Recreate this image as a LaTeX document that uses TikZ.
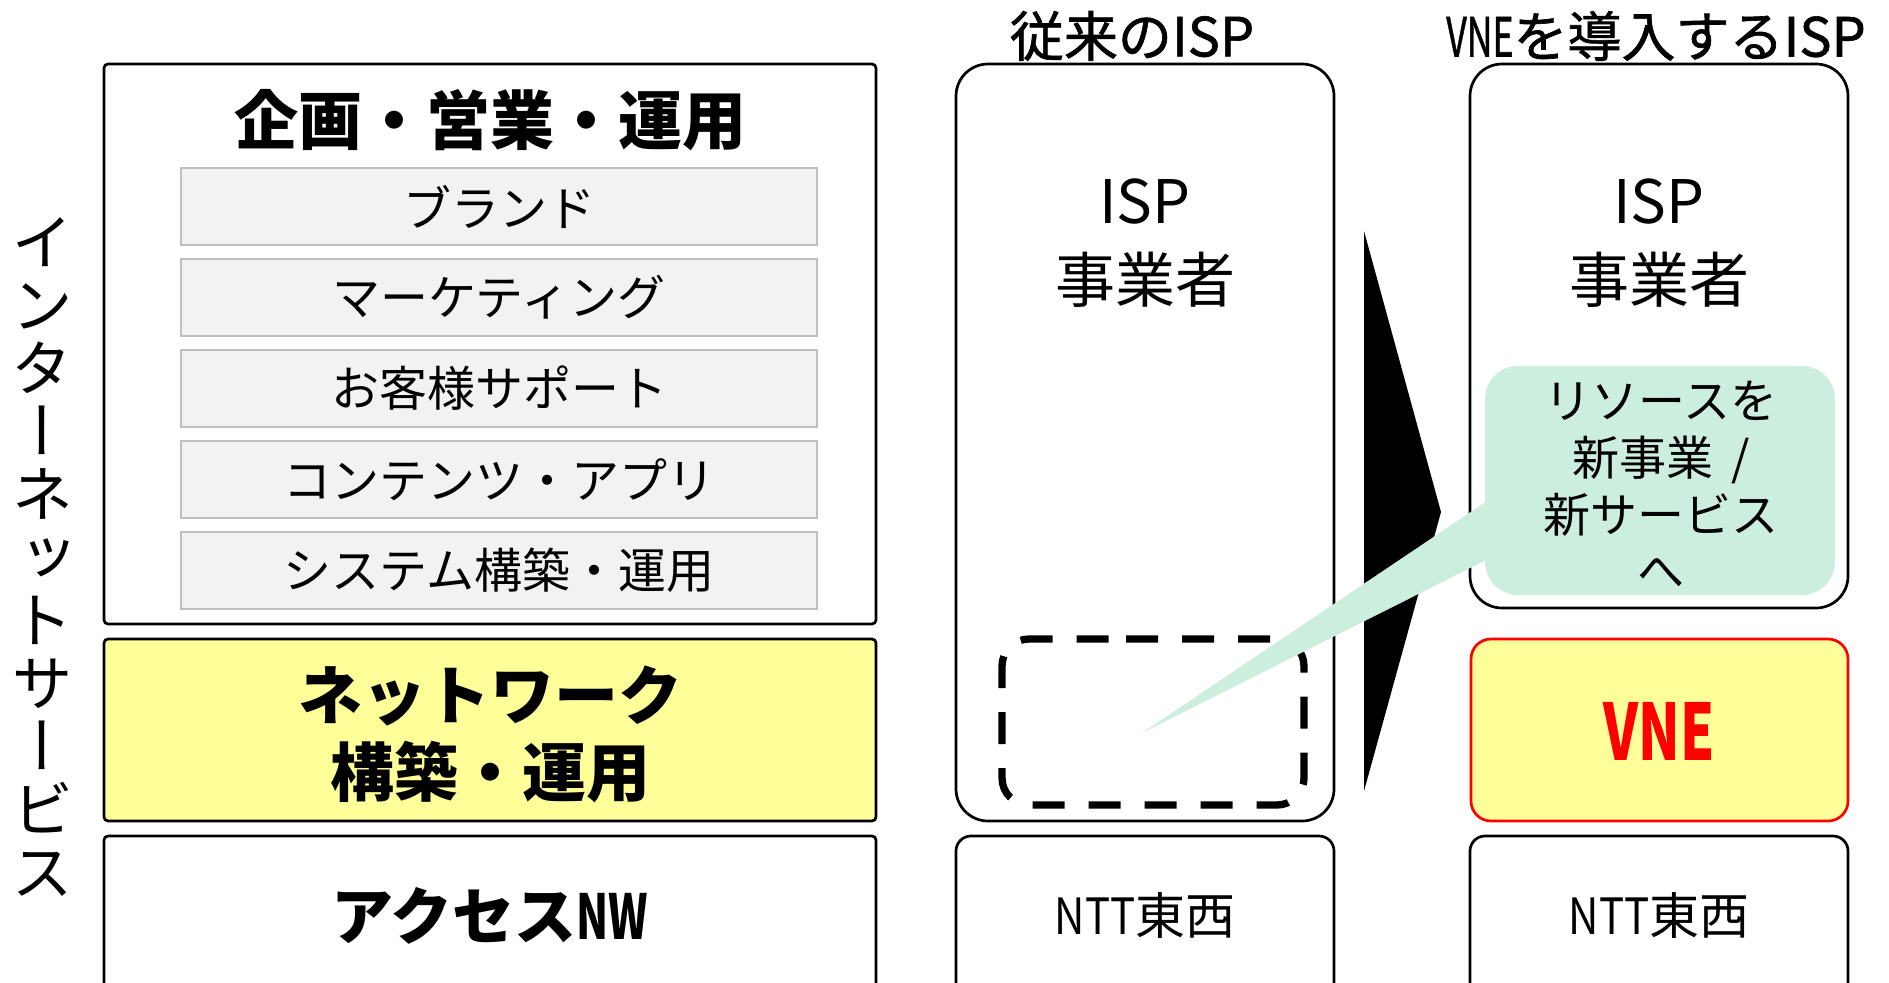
\documentclass[tikz,border=0pt]{standalone}
\usepackage{fontspec}
\setmainfont{Noto Sans CJK JP}
\newfontfamily\vjp[RawFeature=+vert]{Noto Sans CJK JP}
\newfontfamily\semijp[FakeBold=1.2]{Noto Sans CJK JP}
\definecolor{mint}{HTML}{CCEEDE}
\definecolor{pale}{HTML}{FFFF99}
\definecolor{grayfill}{HTML}{F2F2F2}
\definecolor{grayline}{HTML}{BFBFBF}
\newcommand{\cnd}[2][0.7]{\scalebox{#1}[1]{#2}}
\tikzset{
  box/.style={draw=black, line width=2.7pt, fill=white, inner sep=0pt, outer sep=0pt},
  sqbox/.style={box, rounded corners=4pt, minimum width=772pt},
  colbox/.style={box, rounded corners=32pt, minimum width=378pt},
  ntbox/.style={box, rounded corners=15pt, minimum width=378pt, minimum height=164pt},
  graybox/.style={draw=grayline, line width=2pt, fill=grayfill, minimum width=636pt,
    minimum height=77pt, inner sep=0pt, font=\fontsize{48}{50}\selectfont},
  vnebox/.style={box, draw=red, fill=pale, rounded corners=20pt, minimum width=377pt, minimum height=182pt},
  bubble/.style={fill=mint, rounded corners=33pt, inner sep=0pt, minimum width=350pt, minimum height=229pt},
  dashbox/.style={draw=black, line width=7.3pt, rounded corners=27pt, dash pattern=on 32pt off 24pt},
  bigbold/.style={font=\bfseries\fontsize{64}{77}\selectfont, align=center, inner sep=0pt},
  coltitle/.style={font=\semijp\fontsize{54}{54}\selectfont, inner sep=0pt},
  coltext/.style={font=\fontsize{60}{60}\selectfont, inner sep=0pt},
  ntttext/.style={font=\fontsize{50}{50}\selectfont, inner sep=0pt}
}
\begin{document}
\begin{tikzpicture}[x=1pt,y=-1pt]
\useasboundingbox (0,0) rectangle (1889,982);
\clip (0,0) rectangle (1889,982);
\fill[white] (0,0) rectangle (1889,982);

% left stack
\node[sqbox, minimum height=560pt] (plan) at (490,344) {};
\node[font=\bfseries\fontsize{64}{64}\selectfont, inner sep=0pt] (plantitle) at (490,120) {企画・営業・運用};
\node[graybox] (g1) at (499,206.5) {ブランド};
\node[graybox] (g2) at (499,297.5) {マーケティング};
\node[graybox] (g3) at (499,388.5) {お客様サポート};
\node[graybox] (g4) at (499,479.5) {コンテンツ・アプリ};
\node[graybox] (g5) at (499,570.5) {システム構築・運用};
\node[sqbox, fill=pale, minimum height=182pt] (nw) at (490,730) {};
\node[bigbold] (nwtext) at (490,734) {ネットワーク\\構築・運用};
\node[sqbox, minimum height=164pt] (access) at (490,918) {};
\node[bigbold, font=\bfseries\fontsize{62}{62}\selectfont] (accesstext) at (490,916) {アクセス\cnd[0.68]{NW}};

% vertical label
\node[align=center, font=\vjp\fontsize{62}{63}\selectfont, inner sep=0pt] (vt) at (42,557)
  {イ\\ン\\タ\\ー\\ネ\\ッ\\ト\\サ\\ー\\ビ\\ス};

% column titles
\node[coltitle] (oldtitle) at (1132,36) {従来のISP};
\node[coltitle] (newtitle) at (1656,36) {\cnd[0.66]{VNE}を導入するISP};

% conventional ISP
\node[colbox, minimum height=757pt] (old) at (1145,442.5) {};
\node[coltext] (oldisp) at (1145,202) {ISP};
\node[coltext] (oldop) at (1145,280) {事業者};
\draw[dashbox] (1099,639) -- (1304,639) -- (1304,805) -- (1002,805) -- (1002,639) -- cycle;
\node[ntbox] (ntt1) at (1145,918) {};
\node[ntttext] (ntt1text) at (1145,916) {\cnd[0.84]{NTT}東西};

% VNE ISP
\node[colbox, minimum height=544pt] (new) at (1659,336) {};
\node[coltext] (newisp) at (1659,202) {ISP};
\node[coltext] (newop) at (1659,280) {事業者};
\node[vnebox] (vne) at (1659.5,730) {};
\node[font=\bfseries\fontsize{78}{78}\selectfont, text=red, inner sep=0pt] (vnetext) at (1659,731) {\cnd[0.7]{VNE}};
\node[ntbox] (ntt2) at (1659,918) {};
\node[ntttext] (ntt2text) at (1659,916) {\cnd[0.84]{NTT}東西};

% transition arrow
\coordinate (atop) at (1364,231);
\coordinate (atip) at (1441,512);
\coordinate (abot) at (1364,791);
\fill[black] (atop) -- (atip) -- (abot) -- cycle;

% callout
\coordinate (tip) at (1142,733);
\coordinate (pu) at (1490,499);
\coordinate (pl) at (1490,558);
\fill[mint] (pu) -- (tip) -- (pl) -- cycle;
\node[bubble] (callout) at (1660,480.5) {};
\node[align=center, font=\fontsize{47}{56.7}\selectfont, inner sep=0pt] (callouttext) at (1661,485)
  {リソースを\\新事業 \,/\\新サービス\\へ};
\end{tikzpicture}
\end{document}
